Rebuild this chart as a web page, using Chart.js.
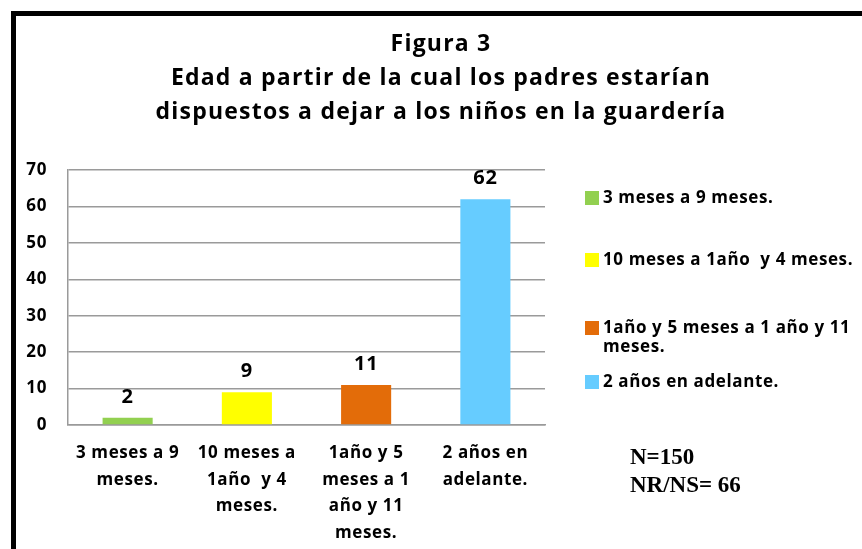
<!DOCTYPE html>
<html>
<head>
<meta charset="utf-8">
<script src="https://cdn.jsdelivr.net/npm/chart.js@4.4.1/dist/chart.umd.min.js"></script>
<style>
  html, body { margin: 0; padding: 0; background: #fff; }
  #wrap { position: relative; width: 862px; height: 549px; overflow: hidden; }
  #frame { position: absolute; left: 11px; top: 11px; width: 900px; height: 600px; border: 5px solid #000; box-sizing: border-box; }
  canvas { position: absolute; left: 0; top: 0; }
</style>
</head>
<body>
<div id="wrap">
  <div id="frame"></div>
  <canvas id="chart" width="862" height="549"></canvas>
</div>
<script>
// data
const categories = [
    ['3 meses a 9', 'meses.'],
    ['10 meses a', '1año  y 4', 'meses.'],
    ['1año y 5', 'meses a 1', 'año y 11', 'meses.'],
    ['2 años en', 'adelante.']
];
const values = [2, 9, 11, 62];
const barColors = ['#92D050', '#FFFF00', '#E36C09', '#66CCFF'];
const legendLabels = [
    ['3 meses a 9 meses.'],
    ['10 meses a 1año  y 4 meses.'],
    ['1año y 5 meses a 1 año y 11', 'meses.'],
    ['2 años en adelante.']
];
const titleLines = [
    'Figura 3',
    'Edad a partir de la cual los padres estarían',
    'dispuestos a dejar a los niños en la guardería'
];
const notes = ['N=150', 'NR/NS= 66'];

const FONT = '"Open Sans", "Noto Sans", sans-serif';

// a little extra tracking, the original font is set loose
const tracking = {
    id: 'tracking',
    beforeLayout(chart) { chart.ctx.letterSpacing = '0.6px'; },
    beforeDraw(chart) { chart.ctx.letterSpacing = '0.6px'; }
};

// title, legend and notes drawn at fixed spots
const decorPlugin = {
    id: 'decor',
    afterDraw(chart) {
        const ctx = chart.ctx;
        ctx.save();
        ctx.fillStyle = '#000';
        ctx.textAlign = 'center';
        ctx.textBaseline = 'alphabetic';
        ctx.font = 'bold 23px ' + FONT;
        ctx.letterSpacing = '1.2px';
        const titleBase = [51, 85, 119];
        titleLines.forEach((t, i) => ctx.fillText(t, 441, titleBase[i]));

        // legend
        const rowY = [198, 260, 328, 382];
        ctx.textAlign = 'left';
        ctx.textBaseline = 'middle';
        ctx.font = 'bold 17px ' + FONT;
        ctx.letterSpacing = '0.6px';
        legendLabels.forEach((lines, i) => {
            ctx.fillStyle = barColors[i];
            ctx.fillRect(585, rowY[i] - 7, 14, 14);
            ctx.fillStyle = '#000';
            lines.forEach((l, j) => ctx.fillText(l, 603, rowY[i] + j * 19));
        });

        // sample notes
        ctx.letterSpacing = '0px';
        ctx.font = 'bold 23px "Liberation Serif", "Times New Roman", serif';
        ctx.textBaseline = 'alphabetic';
        ctx.fillText(notes[0], 630, 464);
        ctx.fillText(notes[1], 630, 492);
        ctx.restore();
    }
};

// value labels above the bars
const valueLabels = {
    id: 'valueLabels',
    afterDatasetsDraw(chart) {
        const ctx = chart.ctx;
        const meta = chart.getDatasetMeta(0);
        ctx.save();
        ctx.font = 'bold 20px ' + FONT;
        ctx.fillStyle = '#000';
        ctx.textAlign = 'center';
        ctx.textBaseline = 'alphabetic';
        meta.data.forEach((bar, i) => {
            ctx.fillText(String(values[i]), bar.x, bar.y - 15);
        });
        ctx.restore();
    }
};

new Chart(document.getElementById('chart'), {
    type: 'bar',
    data: {
        labels: categories,
        datasets: [{
            data: values,
            backgroundColor: barColors,
            borderWidth: 0,
            barPercentage: 0.42,
            categoryPercentage: 1
        }]
    },
    options: {
        responsive: false,
        animation: false,
        events: [],
        layout: { padding: { top: 170, right: 317, bottom: 0, left: 0 } },
        plugins: {
            legend: { display: false },
            title: { display: false },
            tooltip: { enabled: false }
        },
        scales: {
            x: {
                grid: { display: false, drawTicks: false },
                border: { display: true, color: '#9a9a9a', width: 1.5 },
                ticks: {
                    color: '#000',
                    padding: 15,
                    maxRotation: 0,
                    autoSkip: false,
                    font: { family: FONT, size: 17, weight: 'bold', lineHeight: 1.56 }
                },
                afterFit(scale) { scale.height = 124; }
            },
            y: {
                min: 0,
                max: 70,
                ticks: {
                    stepSize: 10,
                    color: '#000',
                    padding: 21,
                    font: { family: FONT, size: 17, weight: 'bold' }
                },
                grid: { color: '#9a9a9a', lineWidth: 1.5, drawTicks: false },
                border: { display: true, color: '#9a9a9a', width: 1.5 },
                afterFit(scale) { scale.width = 68; }
            }
        }
    },
    plugins: [tracking, valueLabels, decorPlugin]
});
</script>
</body>
</html>
